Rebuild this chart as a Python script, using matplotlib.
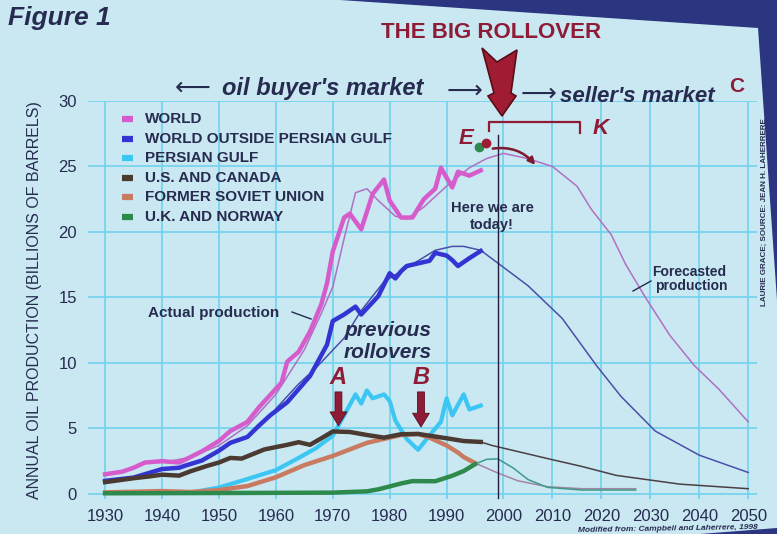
import numpy as np
import matplotlib
matplotlib.use('Agg')
import matplotlib.pyplot as plt
from matplotlib.patches import Polygon, FancyArrowPatch
from matplotlib.lines import Line2D

plt.rcParams['font.family'] = ['Liberation Sans', 'DejaVu Sans']

# --- data (billions of barrels per year) ---
world_years = [1930, 1933, 1935, 1937, 1940, 1943, 1944, 1947, 1950, 1952, 1955, 1957, 1959, 1961, 1962,
               1964, 1966, 1968, 1969, 1970, 1972, 1973, 1975, 1977, 1979, 1980, 1982, 1984, 1986, 1988,
               1989, 1991, 1992, 1994, 1996]
world_vals = [1.5, 1.7, 2.0, 2.4, 2.5, 2.4, 2.6, 3.25, 4.05, 4.8, 5.5, 6.6, 7.55, 8.5, 10.1,
              10.85, 12.4, 14.5, 16.1, 18.5, 21.1, 21.4, 20.2, 22.9, 24.0, 22.4, 21.1, 21.1, 22.5, 23.3,
              24.9, 23.4, 24.6, 24.3, 24.7]
# smooth model curve incl. forecast
world_fit_years = [1940, 1945, 1950, 1955, 1960, 1965, 1968, 1970, 1972, 1974, 1976, 1978, 1981, 1983, 1986,
                   1990, 1994, 1997, 2000, 2005, 2010, 2015, 2018, 2022, 2025, 2029, 2034, 2039, 2044, 2050]
world_fit_vals = [2.4, 2.8, 3.7, 5.2, 7.6, 11.0, 13.8, 15.8, 19.5, 23.0, 23.3, 22.4, 21.2, 21.0, 21.9,
                  23.5, 24.9, 25.6, 26.0, 25.6, 25.0, 23.5, 21.7, 19.8, 17.5, 15.0, 12.1, 9.8, 8.0, 5.5]

wopg_years = [1930, 1935, 1940, 1943, 1944, 1947, 1950, 1952, 1955, 1957, 1959, 1962, 1964, 1966, 1968,
              1969, 1970, 1972, 1974, 1975, 1978, 1980, 1981, 1982, 1983, 1985, 1987, 1988, 1990, 1991,
              1992, 1994, 1996]
wopg_vals = [1.0, 1.25, 1.9, 2.0, 2.15, 2.55, 3.3, 3.9, 4.35, 5.2, 6.0, 7.0, 8.0, 9.0, 10.6,
             11.4, 13.2, 13.7, 14.3, 13.7, 15.1, 16.85, 16.45, 17.0, 17.4, 17.6, 17.8, 18.4, 18.2, 17.85,
             17.4, 18.0, 18.55]
wopg_fit_years = [1960, 1964, 1967, 1972, 1975, 1979, 1985, 1988, 1991, 1993, 1996, 2000, 2005, 2012,
                  2019, 2024, 2031, 2040, 2050]
wopg_fit_vals = [6.5, 8.4, 9.6, 11.9, 14.0, 16.2, 17.8, 18.6, 18.9, 18.9, 18.6, 17.3, 15.9, 13.4,
                 9.8, 7.45, 4.8, 2.96, 1.64]

pg_years = [1945, 1950, 1955, 1960, 1964, 1967, 1970, 1972, 1974, 1975, 1976, 1977, 1979, 1980, 1981,
            1983, 1985, 1987, 1989, 1990, 1991, 1993, 1994, 1996]
pg_vals = [0.1, 0.49, 1.14, 1.82, 2.75, 3.48, 4.45, 6.0, 7.6, 6.9, 7.9, 7.3, 7.6, 7.1, 5.6,
           4.2, 3.37, 4.47, 5.5, 7.3, 6.0, 7.6, 6.45, 6.75]

us_years = [1930, 1935, 1938, 1940, 1943, 1945, 1948, 1950, 1952, 1954, 1956, 1958, 1962, 1964, 1966,
            1968, 1970, 1973, 1976, 1979, 1982, 1985, 1990, 1993, 1996]
us_vals = [0.9, 1.2, 1.35, 1.47, 1.4, 1.73, 2.15, 2.4, 2.75, 2.7, 3.05, 3.4, 3.75, 3.95, 3.75,
           4.25, 4.77, 4.73, 4.5, 4.3, 4.56, 4.58, 4.25, 4.04, 3.97]
us_fc_years = [1996, 1998, 2009, 2016, 2023, 2036, 2050]
us_fc_vals = [3.97, 3.7, 2.7, 2.1, 1.42, 0.75, 0.4]

fsu_years = [1930, 1940, 1945, 1950, 1955, 1960, 1965, 1970, 1976, 1982, 1985, 1987, 1990, 1992, 1993, 1995]
fsu_vals = [0.12, 0.22, 0.15, 0.3, 0.6, 1.27, 2.2, 2.9, 3.9, 4.5, 4.58, 4.3, 3.7, 3.16, 2.82, 2.36]
fsu_fc_years = [1995, 1999, 2003, 2009, 2016, 2027]
fsu_fc_vals = [2.36, 1.6, 1.0, 0.55, 0.4, 0.4]

uk_years = [1930, 1950, 1970, 1973, 1976, 1978, 1982, 1984, 1988, 1991, 1993, 1995]
uk_vals = [0.05, 0.07, 0.1, 0.15, 0.2, 0.35, 0.8, 0.98, 0.97, 1.39, 1.75, 2.27]
uk_fc_years = [1995, 1997, 1999, 2002, 2005, 2009, 2016, 2027]
uk_fc_vals = [2.27, 2.64, 2.68, 1.98, 1.1, 0.5, 0.3, 0.3]

legend_labels = ['WORLD', 'WORLD OUTSIDE PERSIAN GULF', 'PERSIAN GULF', 'U.S. AND CANADA',
                 'FORMER SOVIET UNION', 'U.K. AND NORWAY']
legend_colors = ['#d65ccc', '#3434d2', '#3cc6f4', '#4a3a32', '#c97b62', '#2e8a4c']
decades = list(range(1930, 2051, 10))
today = 1999

BG = '#c9e8f2'
GRID = '#70d3ee'
NAVY = '#272b50'
MAROON = '#8e1c36'
W, H = 777, 534


def fx(x, y):
    # pixel position (top-left origin) -> figure fraction
    return x / W, 1 - y / H


def fwd(x):
    x = np.asarray(x, float)
    return np.where(x <= 2000, x - 1930, 70 + (x - 2000) * 0.86)


def inv(u):
    u = np.asarray(u, float)
    return np.where(u <= 70, u + 1930, 2000 + (u - 70) / 0.86)


fig = plt.figure(figsize=(7.77, 5.34), dpi=100)
fig.patch.set_facecolor(BG)

ax = fig.add_axes([0.1133, 0.0652, 0.861, 0.7457])
ax.set_facecolor(BG)
ax.set_xscale('function', functions=(fwd, inv))
ax.set_xlim(1927, 2051.8)
ax.set_ylim(-0.4, 30)
ax.set_xticks(decades)
ax.set_xticklabels([str(d) for d in decades])
ax.set_yticks(range(0, 31, 5))
ax.grid(True, color=GRID, lw=1.2, zorder=0)
ax.set_axisbelow(True)
ax.tick_params(length=0, labelsize=12, labelcolor=NAVY)
ax.tick_params(axis='x', pad=7)
ax.tick_params(axis='y', pad=8)
for s in ax.spines.values():
    s.set_visible(False)

# thin model / forecast curves
ax.plot(world_fit_years, world_fit_vals, color='#b070c4', lw=1.1, zorder=2)
ax.plot(wopg_fit_years, wopg_fit_vals, color='#4b4fa8', lw=1.1, zorder=2)
ax.plot(us_fc_years, us_fc_vals, color='#4a3f45', lw=1.1, zorder=2)
ax.plot(fsu_fc_years, fsu_fc_vals, color='#a384a6', lw=1.1, zorder=2)
ax.plot(uk_fc_years, uk_fc_vals, color='#3e9a8a', lw=1.1, zorder=2)

# thick actual production
ax.plot(world_years, world_vals, color=legend_colors[0], lw=3.2, zorder=3)
ax.plot(wopg_years, wopg_vals, color=legend_colors[1], lw=3.2, zorder=3)
ax.plot(pg_years, pg_vals, color=legend_colors[2], lw=3.0, zorder=3)
ax.plot(us_years, us_vals, color=legend_colors[3], lw=3.2, zorder=4)
ax.plot(fsu_years, fsu_vals, color=legend_colors[4], lw=3.2, zorder=3)
ax.plot(uk_years, uk_vals, color=legend_colors[5], lw=3.2, zorder=3)

# "here we are today" line
ax.plot([today, today], [-0.3, 27.4], color='#1e1e3a', lw=1.0, zorder=5, clip_on=False)

# previous rollovers A and B
for lab, yr, yv in [('A', 1971, 5.0), ('B', 1985.5, 4.9)]:
    ax.text(yr, 8.9, lab, ha='center', va='center', fontsize=17, fontweight='bold',
            fontstyle='italic', color=MAROON, zorder=6)
    ax.add_patch(FancyArrowPatch((yr, 8.0), (yr, yv), arrowstyle='simple,head_width=1.1,head_length=0.9,tail_width=0.45',
                                 mutation_scale=11, color=MAROON, ec='#5a0c1c', lw=0.6, zorder=6))

# ---- figure-level decorations ----
fig.add_artist(Polygon([fx(340, 0), fx(777, 0), fx(777, 300), fx(758, 28)], closed=True,
                       transform=fig.transFigure, fc='#2b3580', ec='none'))
fig.add_artist(Polygon([fx(700, 534), fx(777, 534), fx(777, 528)], closed=True,
                       transform=fig.transFigure, fc='#2b3580', ec='none'))

fig.text(*fx(8, 18), 'Figure 1', fontsize=19, fontweight='bold', fontstyle='italic', color=NAVY,
         ha='left', va='center')
fig.text(*fx(491, 33), 'THE BIG ROLLOVER', fontsize=16, fontweight='bold', color=MAROON,
         ha='center', va='center')

arrow_px = [(482, 48), (497, 62), (517, 50), (511, 93), (516, 96), (502, 116), (488, 96), (494, 93)]
fig.add_artist(Polygon([fx(*p) for p in arrow_px], closed=True, transform=fig.transFigure,
                       fc='#a01c32', ec='#5a0c18', lw=1.2))

fig.text(*fx(193, 88), '⟵', fontsize=18, color=NAVY, ha='center', va='center', family='DejaVu Sans')
fig.text(*fx(222, 88), "oil buyer's market", fontsize=17, fontweight='bold', fontstyle='italic',
         color=NAVY, ha='left', va='center')
fig.text(*fx(464, 91), '⟶', fontsize=18, color=NAVY, ha='center', va='center', family='DejaVu Sans')
fig.text(*fx(538, 94), '⟶', fontsize=18, color=NAVY, ha='center', va='center', family='DejaVu Sans')
fig.text(*fx(560, 96), "seller's market", fontsize=16, fontweight='bold', fontstyle='italic',
         color=NAVY, ha='left', va='center')
fig.text(*fx(737, 86), 'C', fontsize=15, fontweight='bold', color=MAROON, ha='center', va='center')

# E / K markers
fig.text(*fx(466, 138), 'E', fontsize=16, fontweight='bold', fontstyle='italic', color=MAROON,
         ha='center', va='center')
fig.add_artist(Line2D([fx(479, 147)[0]], [fx(479, 147)[1]], marker='o', ms=6, color='#2e8a4c',
                      transform=fig.transFigure))
fig.add_artist(Line2D([fx(486, 143)[0]], [fx(486, 143)[1]], marker='o', ms=6, color='#a01c32',
                      transform=fig.transFigure))
br = [fx(489, 131), fx(489, 122), fx(580, 122), fx(580, 133)]
fig.add_artist(Line2D([p[0] for p in br], [p[1] for p in br], color=MAROON, lw=1.6,
                      transform=fig.transFigure))
fig.text(*fx(593, 129), 'K', fontsize=16, fontweight='bold', fontstyle='italic', color=MAROON,
         ha='left', va='center')
fig.add_artist(FancyArrowPatch(fx(490, 149), fx(537, 167), transform=fig.transFigure,
                               connectionstyle='arc3,rad=-0.3', arrowstyle='-|>', mutation_scale=10,
                               lw=1.8, color='#7a1a2c'))

fig.text(*fx(492, 208), 'Here we are', fontsize=10.5, fontweight='bold', color=NAVY, ha='center', va='center')
fig.text(*fx(492, 225), 'today!', fontsize=10.5, fontweight='bold', color=NAVY, ha='center', va='center')

fig.text(*fx(148, 313), 'Actual production', fontsize=11, fontweight='bold', color=NAVY,
         ha='left', va='center')
fig.add_artist(Line2D([fx(292, 312)[0], fx(311, 319)[0]], [fx(292, 312)[1], fx(311, 319)[1]],
                      color=NAVY, lw=1.0, transform=fig.transFigure))
fig.text(*fx(388, 330), 'previous', fontsize=15, fontweight='bold', fontstyle='italic', color=NAVY,
         ha='center', va='center')
fig.text(*fx(388, 352), 'rollovers', fontsize=15, fontweight='bold', fontstyle='italic', color=NAVY,
         ha='center', va='center')

fig.text(*fx(689, 272), 'Forecasted', fontsize=10, fontweight='bold', color=NAVY, ha='center', va='center')
fig.text(*fx(691, 286), 'production', fontsize=10, fontweight='bold', color=NAVY, ha='center', va='center')
fig.add_artist(Line2D([fx(633, 291)[0], fx(651, 281)[0]], [fx(633, 291)[1], fx(651, 281)[1]],
                      color=NAVY, lw=1.0, transform=fig.transFigure))

fig.text(*fx(764, 212), 'LAURIE GRACE; SOURCE: JEAN H. LAHERRERE', rotation=90, fontsize=5.8,
         fontweight='bold', color=NAVY, ha='center', va='center')
fig.text(*fx(758, 529), 'Modified from: Campbell and Laherrere, 1998', rotation=1, fontsize=6,
         fontweight='bold', fontstyle='italic', color=NAVY, ha='right', va='center')
fig.text(*fx(35, 300), 'ANNUAL OIL PRODUCTION (BILLIONS OF BARRELS)', rotation=90, fontsize=11.5,
         color=NAVY, ha='center', va='center')

# legend
rows_y = [119, 139, 158, 178, 197, 217]
for lab, col, ry in zip(legend_labels, legend_colors, rows_y):
    fig.add_artist(Line2D([fx(122, ry)[0], fx(133, ry)[0]], [fx(122, ry)[1], fx(133, ry)[1]],
                          color=col, lw=4.5, solid_capstyle='butt', transform=fig.transFigure))
    fig.text(*fx(145, ry), lab, fontsize=11, fontweight='bold', color=NAVY, ha='left', va='center')

fig.savefig('out.png', dpi=100, facecolor=fig.get_facecolor())
